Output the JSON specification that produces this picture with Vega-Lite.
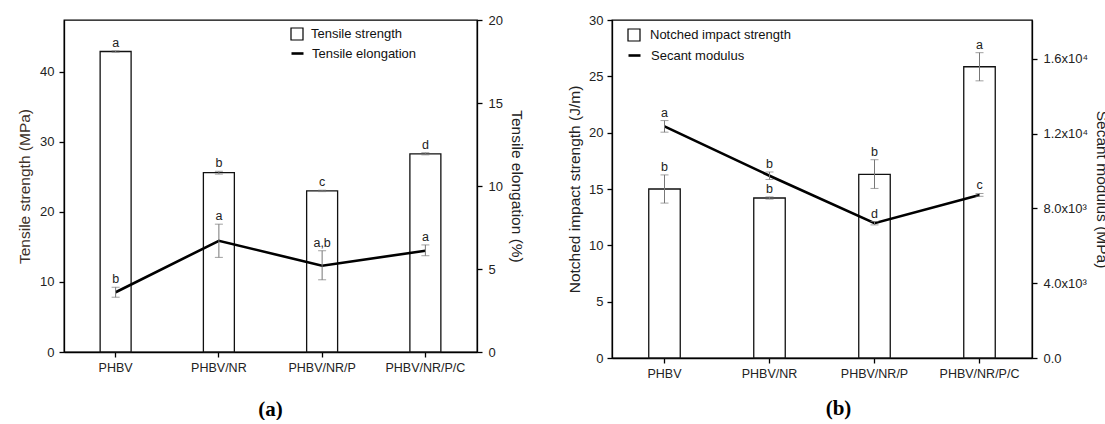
{
  "$schema": "https://vega.github.io/schema/vega-lite/v6.json",
  "background": "white",
  "padding": {"left": 16, "top": 13, "right": 0, "bottom": 0},
  "autosize": {"type": "pad"},
  "bounds": "flush",
  "spacing": 135,
  "config": {
    "view": {"stroke": "black", "strokeWidth": 1.3},
    "axis": {
      "domainColor": "black", "domainWidth": 1.3, "tickColor": "black", "tickWidth": 1.3, "tickSize": 5,
      "labelFont": "Liberation Sans", "labelFontSize": 13, "labelColor": "#222",
      "titleFont": "Liberation Sans", "titleFontSize": 15.5, "titleFontWeight": "normal", "titleColor": "#222",
      "grid": false
    },
    "legend": {"labelFont": "Liberation Sans", "labelFontSize": 13, "labelColor": "#111", "symbolSize": 144, "orient": "none"},
    "text": {"font": "Liberation Sans"}
  },
  "datasets": {
    "a": [
      {"sample": "PHBV", "ts": 42.9, "ts_lo": 42.8, "ts_hi": 43.0, "ts_lab": "a", "el": 3.6, "el_lo": 3.3, "el_hi": 3.9, "el_lab": "b"},
      {"sample": "PHBV/NR", "ts": 25.6, "ts_lo": 25.4, "ts_hi": 25.8, "ts_lab": "b", "el": 6.7, "el_lo": 5.7, "el_hi": 7.7, "el_lab": "a"},
      {"sample": "PHBV/NR/P", "ts": 23.0, "ts_lo": 22.9, "ts_hi": 23.1, "ts_lab": "c", "el": 5.2, "el_lo": 4.35, "el_hi": 6.1, "el_lab": "a,b"},
      {"sample": "PHBV/NR/P/C", "ts": 28.3, "ts_lo": 28.15, "ts_hi": 28.45, "ts_lab": "d", "el": 6.1, "el_lo": 5.8, "el_hi": 6.45, "el_lab": "a"}
    ],
    "b": [
      {"sample": "PHBV", "nis": 15.0, "nis_lo": 13.75, "nis_hi": 16.25, "nis_lab": "b", "sm": 12390, "sm_lo": 12080, "sm_hi": 12700, "sm_lab": "a"},
      {"sample": "PHBV/NR", "nis": 14.2, "nis_lo": 14.1, "nis_hi": 14.3, "nis_lab": "b", "sm": 9750, "sm_lo": 9550, "sm_hi": 9950, "sm_lab": "b"},
      {"sample": "PHBV/NR/P", "nis": 16.3, "nis_lo": 15.05, "nis_hi": 17.6, "nis_lab": "b", "sm": 7210, "sm_lo": 7120, "sm_hi": 7300, "sm_lab": "d"},
      {"sample": "PHBV/NR/P/C", "nis": 25.85, "nis_lo": 24.6, "nis_hi": 27.1, "nis_lab": "a", "sm": 8720, "sm_lo": 8650, "sm_hi": 8800, "sm_lab": "c"}
    ]
  },
  "resolve": {"scale": {"stroke": "independent", "fill": "independent"}, "legend": {"stroke": "independent", "fill": "independent"}},
  "hconcat": [
    {
      "width": 413, "height": 332,
      "data": {"name": "a"},
      "encoding": {
        "x": {"field": "sample", "type": "nominal", "sort": null,
          "scale": {"paddingInner": 0.7, "paddingOuter": 0.35},
          "axis": {"title": "(a)", "labelAngle": 0, "bandPosition": 0.5, "labelPadding": 4, "labelFontSize": 12.5,
            "titleFont": "Liberation Serif", "titleFontWeight": "bold", "titleFontSize": 21, "titleColor": "black",
            "titleX": 206, "titleY": 46, "titleBaseline": "top"}}
      },
      "layer": [
        {
          "layer": [
            {
              "mark": {"type": "bar", "stroke": "#111", "strokeWidth": 1.3},
              "encoding": {
                "y": {"field": "ts", "type": "quantitative", "title": "Tensile strength (MPa)",
                  "scale": {"domain": [0, 47.4], "nice": false},
                  "axis": {"orient": "left", "values": [0, 5, 10, 15, 20, 25, 30, 35, 40, 45], "labelPadding": 5, "titlePadding": 7, "titleColor": "#3d3128"}},
                "fill": {"datum": "Tensile strength",
                  "scale": {"domain": ["Tensile strength"], "range": ["white"]},
                  "legend": {"title": null, "legendX": 226, "legendY": 7, "labelOffset": 7,
                    "symbolType": "square", "symbolStrokeColor": "black", "symbolStrokeWidth": 1.2,
                    "encode": {"symbols": {"update": {"stroke": {"value": "black"}, "strokeWidth": {"value": 1.2}, "fill": {"value": "white"}, "opacity": {"value": 1}}}}}}
              }
            },
            {
              "mark": {"type": "errorbar", "color": "#777", "ticks": {"size": 8, "color": "#777"}},
              "encoding": {
                "y": {"field": "ts_lo", "type": "quantitative", "title": "Tensile strength (MPa)", "scale": {"domain": [0, 47.4], "nice": false}},
                "y2": {"field": "ts_hi"}
              }
            },
            {
              "mark": {"type": "text", "baseline": "bottom", "dy": -1, "fontSize": 12.5, "color": "#222"},
              "encoding": {
                "y": {"field": "ts_hi", "type": "quantitative", "title": "Tensile strength (MPa)", "scale": {"domain": [0, 47.4], "nice": false}},
                "text": {"field": "ts_lab"}
              }
            }
          ]
        },
        {
          "layer": [
            {
              "mark": {"type": "line", "strokeWidth": 2.6},
              "encoding": {
                "y": {"field": "el", "type": "quantitative", "title": "Tensile elongation (%)",
                  "scale": {"domain": [0, 20], "nice": false},
                  "axis": {"orient": "right", "values": [0, 5, 10, 15, 20], "labelPadding": 6, "titlePadding": 6}},
                "stroke": {"datum": "Tensile elongation",
                  "scale": {"domain": ["Tensile elongation"], "range": ["black"]},
                  "legend": {"title": null, "legendX": 226, "legendY": 26, "labelOffset": 7,
                    "symbolType": "stroke", "symbolStrokeWidth": 2.6}}
              }
            },
            {
              "mark": {"type": "errorbar", "color": "#777", "ticks": {"size": 8, "color": "#777"}},
              "encoding": {
                "y": {"field": "el_lo", "type": "quantitative", "title": "Tensile elongation (%)", "scale": {"domain": [0, 20], "nice": false}},
                "y2": {"field": "el_hi"}
              }
            },
            {
              "mark": {"type": "text", "baseline": "bottom", "dy": -1, "fontSize": 12.5, "color": "#222"},
              "encoding": {
                "y": {"field": "el_hi", "type": "quantitative", "title": "Tensile elongation (%)", "scale": {"domain": [0, 20], "nice": false}},
                "text": {"field": "el_lab"}
              }
            }
          ]
        }
      ],
      "resolve": {"scale": {"y": "independent"}}
    },
    {
      "width": 420, "height": 338,
      "data": {"name": "b"},
      "encoding": {
        "x": {"field": "sample", "type": "nominal", "sort": null,
          "scale": {"paddingInner": 0.7, "paddingOuter": 0.35},
          "axis": {"title": "(b)", "labelAngle": 0, "bandPosition": 0.5, "labelPadding": 4, "labelFontSize": 12.5,
            "titleFont": "Liberation Serif", "titleFontWeight": "bold", "titleFontSize": 21, "titleColor": "black",
            "titleX": 226, "titleY": 39, "titleBaseline": "top"}}
      },
      "layer": [
        {
          "layer": [
            {
              "mark": {"type": "bar", "stroke": "#111", "strokeWidth": 1.3},
              "encoding": {
                "y": {"field": "nis", "type": "quantitative", "title": "Notched impact strength (J/m)",
                  "scale": {"domain": [0, 30], "nice": false},
                  "axis": {"orient": "left", "values": [0, 5, 10, 15, 20, 25, 30], "labelPadding": 4, "titlePadding": 6}},
                "fill": {"datum": "Notched impact strength",
                  "scale": {"domain": ["Notched impact strength"], "range": ["white"]},
                  "legend": {"title": null, "legendX": 15, "legendY": 8, "labelOffset": 9,
                    "symbolType": "square", "symbolStrokeColor": "black", "symbolStrokeWidth": 1.2,
                    "encode": {"symbols": {"update": {"stroke": {"value": "black"}, "strokeWidth": {"value": 1.2}, "fill": {"value": "white"}, "opacity": {"value": 1}}}}}}
              }
            },
            {
              "mark": {"type": "errorbar", "color": "#777", "ticks": {"size": 8, "color": "#777"}},
              "encoding": {
                "y": {"field": "nis_lo", "type": "quantitative", "title": "Notched impact strength (J/m)", "scale": {"domain": [0, 30], "nice": false}},
                "y2": {"field": "nis_hi"}
              }
            },
            {
              "mark": {"type": "text", "baseline": "bottom", "dy": -1, "fontSize": 12.5, "color": "#222"},
              "encoding": {
                "y": {"field": "nis_hi", "type": "quantitative", "title": "Notched impact strength (J/m)", "scale": {"domain": [0, 30], "nice": false}},
                "text": {"field": "nis_lab"}
              }
            }
          ]
        },
        {
          "layer": [
            {
              "mark": {"type": "line", "strokeWidth": 2.6},
              "encoding": {
                "y": {"field": "sm", "type": "quantitative", "title": "Secant modulus (MPa)",
                  "scale": {"domain": [0, 18080], "nice": false},
                  "axis": {"orient": "right", "values": [0, 4000, 8000, 12000, 16000], "labelPadding": 6, "titlePadding": 6,
                    "labelExpr": "datum.value == 0 ? '0.0' : datum.value == 4000 ? '4.0x10³' : datum.value == 8000 ? '8.0x10³' : datum.value == 12000 ? '1.2x10⁴' : '1.6x10⁴'"}},
                "stroke": {"datum": "Secant modulus",
                  "scale": {"domain": ["Secant modulus"], "range": ["black"]},
                  "legend": {"title": null, "legendX": 15, "legendY": 28, "labelOffset": 9,
                    "symbolType": "stroke", "symbolStrokeWidth": 2.6}}
              }
            },
            {
              "mark": {"type": "errorbar", "color": "#777", "ticks": {"size": 8, "color": "#777"}},
              "encoding": {
                "y": {"field": "sm_lo", "type": "quantitative", "title": "Secant modulus (MPa)", "scale": {"domain": [0, 18080], "nice": false}},
                "y2": {"field": "sm_hi"}
              }
            },
            {
              "mark": {"type": "text", "baseline": "bottom", "dy": -1, "fontSize": 12.5, "color": "#222"},
              "encoding": {
                "y": {"field": "sm_hi", "type": "quantitative", "title": "Secant modulus (MPa)", "scale": {"domain": [0, 18080], "nice": false}},
                "text": {"field": "sm_lab"}
              }
            }
          ]
        }
      ],
      "resolve": {"scale": {"y": "independent"}}
    }
  ]
}
